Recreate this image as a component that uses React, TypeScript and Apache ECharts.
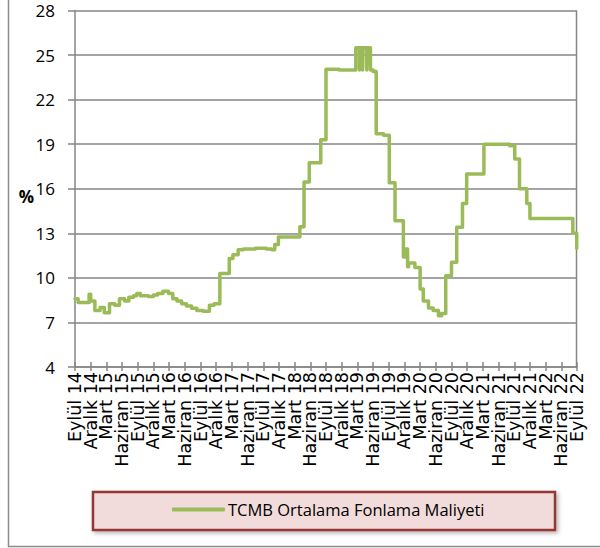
import React, { useEffect, useRef } from "react";
import * as echarts from "echarts";

const xLabels = [
  "Eylül 14", "Aralık 14", "Mart 15", "Haziran 15", "Eylül 15", "Aralık 15", "Mart 16", "Haziran 16",
  "Eylül 16", "Aralık 16", "Mart 17", "Haziran 17", "Eylül 17", "Aralık 17", "Mart 18", "Haziran 18",
  "Eylül 18", "Aralık 18", "Mart 19", "Haziran 19", "Eylül 19", "Aralık 19", "Mart 20", "Haziran 20",
  "Eylül 20", "Aralık 20", "Mart 21", "Haziran 21", "Eylül 21", "Aralık 21", "Mart 22", "Haziran 22",
  "Eylül 22",
];

// months since Eylül 14 at which the rate changes
const changeMonths = [
  0, 0.6, 2.7, 3.0, 3.8, 4.8, 5.6, 6.6, 7.6, 8.5, 9.5, 10.3, 11.2, 11.8, 12.5, 14.0, 15.0, 15.8, 16.8,
  17.9, 18.7, 19.5, 20.4, 21.3, 22.3, 23.3, 24.5, 25.7, 26.6, 27.7, 29.5, 30.2, 31.2, 32.2, 34.5, 36.6,
  37.6, 38.2, 38.9, 43.0, 43.8, 44.8, 47.0, 48.0, 50.5, 53.7, 54.4, 54.5, 55.0, 55.1, 55.8, 55.9, 56.5,
  57.0, 57.6, 59.0, 60.1, 61.2, 62.8, 63.2, 63.6, 63.8, 65.0, 66.0, 66.6, 67.6, 68.5, 69.5, 70.1, 70.9,
  72.0, 73.0, 74.1, 74.9, 78.2, 83.1, 84.1, 85.0, 86.4, 87.0, 95.2, 95.95, 96,
];
const rateValues = [
  8.6, 8.35, 8.9, 8.45, 7.8, 8.0, 7.65, 8.25, 8.15, 8.6, 8.45, 8.7, 8.8, 8.95, 8.8, 8.75, 8.85, 8.95, 9.1,
  8.95, 8.6, 8.45, 8.25, 8.1, 7.95, 7.8, 7.75, 8.15, 8.25, 10.3, 11.3, 11.55, 11.9, 11.95, 12.0, 11.95,
  11.9, 12.25, 12.75, 13.45, 16.45, 17.75, 19.3, 24.05, 24.0, 25.5, 24.0, 25.5, 24.0, 25.5, 24.0, 25.5, 24.0,
  23.9, 19.7, 19.6, 16.4, 13.85, 11.4, 11.95, 10.75, 11.0, 10.7, 9.25, 8.45, 7.97, 7.8, 7.45, 7.6, 10.15,
  11.05, 13.4, 15.0, 17.0, 19.0, 18.9, 18.0, 16.0, 15.0, 14.0, 13.0, 12.0, 12.0,
];

const seriesName = "TCMB Ortalama Fonlama Maliyeti";
const yUnit = "%";

export default function App() {
  const ref = useRef<HTMLDivElement>(null);
  useEffect(() => {
    if (!ref.current) return;
    const chart = echarts.init(ref.current, undefined, { renderer: "svg" });
    const gray = "#868686";
    chart.setOption({
      animation: false,
      backgroundColor: "#ffffff",
      grid: { left: 75, right: 23, top: 10.5, bottom: 181, show: false },
      xAxis: [
        {
          type: "category",
          data: xLabels,
          boundaryGap: false,
          axisLine: { show: true, lineStyle: { color: gray, width: 1.5 } },
          axisTick: { show: true, interval: 0, length: 4, lineStyle: { color: gray, width: 1.5 } },
          splitLine: { show: false },
          axisLabel: {
            interval: 0,
            rotate: 90,
            margin: 5,
            fontFamily: "DejaVu Sans",
            fontSize: 17.5,
            color: "#000",
          },
        },
        {
          type: "value",
          position: "bottom",
          min: 0,
          max: 96,
          interval: 3,
          axisLine: { show: false },
          axisTick: { show: true, inside: true, length: 5, lineStyle: { color: gray, width: 1.5 } },
          splitLine: { show: false },
          axisLabel: { show: false },
        },
      ],
      yAxis: {
        type: "value",
        min: 4,
        max: 28,
        interval: 3,
        axisLine: { show: true, lineStyle: { color: gray, width: 1.5 } },
        axisTick: { show: true, length: 7, lineStyle: { color: gray, width: 1.5 } },
        splitLine: { show: true, lineStyle: { color: gray, width: 1.5 } },
        axisLabel: { margin: 20, fontFamily: "Open Sans", fontSize: 17, color: "#000" },
      },
      legend: {
        show: true,
        left: 172,
        top: 501,
        padding: 0,
        itemGap: 0,
        itemWidth: 53,
        itemHeight: 4,
        icon: "roundRect",
        textStyle: { fontFamily: "Open Sans", fontSize: 16.5, color: "#000", padding: [0, 0, 0, -2] },
        data: [seriesName],
        z: 10,
      },
      graphic: [
        {
          type: "rect",
          z: 1,
          shape: { x: 93, y: 492, width: 462, height: 38 },
          style: {
            fill: "#F2DCDB",
            stroke: "#953735",
            lineWidth: 2.5,
            shadowBlur: 4,
            shadowOffsetX: 2,
            shadowOffsetY: 2,
            shadowColor: "rgba(0,0,0,0.3)",
          },
        },
        {
          type: "rect",
          z: 1,
          shape: { x: 8.5, y: -10, width: 620, height: 556.5 },
          style: { fill: "none", stroke: "#8c8c8c", lineWidth: 1.5 },
        },
        {
          type: "line",
          z: 1,
          shape: { x1: 576.5, y1: 10.5, x2: 576.5, y2: 367 },
          style: { stroke: gray, lineWidth: 1.5 },
        },
        {
          type: "text",
          z: 5,
          x: 34,
          y: 196,
          style: {
            text: yUnit,
            fontFamily: "Open Sans",
            fontWeight: "bold",
            fontSize: 17,
            fill: "#000",
            align: "right",
            verticalAlign: "middle",
          },
        },
      ],
      series: [
        {
          name: seriesName,
          type: "line",
          xAxisIndex: 1,
          step: "end",
          symbol: "none",
          showSymbol: false,
          color: "#9BBB59",
          lineStyle: { color: "#9BBB59", width: 3.5, join: "round", cap: "round" },
          data: changeMonths.map((m, i) => [m, rateValues[i]]),
          z: 3,
        },
      ],
    });
    return () => chart.dispose();
  }, []);
  return (
    <div
      ref={ref}
      style={{ position: "absolute", left: 0, top: 0, width: 600, height: 548 }}
    />
  );
}
